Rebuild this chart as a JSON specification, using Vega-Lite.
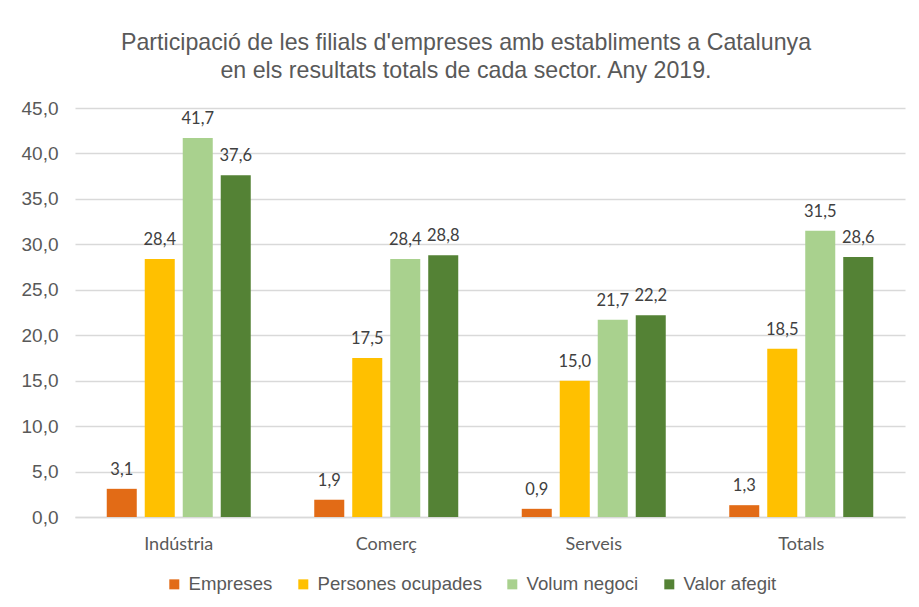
{
  "$schema": "https://vega.github.io/schema/vega-lite/v6.json",
  "autosize": {"type": "none"},
  "width": 830,
  "height": 409,
  "padding": {"left": 75, "top": 108, "right": 14, "bottom": 90},
  "background": "white",
  "config": {
    "locale": {"number": {"decimal": ",", "thousands": ".", "grouping": [3], "currency": ["", " €"]}},
    "view": {"stroke": null},
    "font": "Liberation Sans"
  },
  "title": {
    "text": ["Participació de les filials d'empreses amb establiments a Catalunya", "en els resultats totals de cada sector. Any 2019."],
    "font": "Liberation Sans",
    "fontSize": 23.2,
    "fontWeight": "normal",
    "color": "#595959",
    "lineHeight": 28,
    "anchor": "middle",
    "frame": "group",
    "dx": -24,
    "offset": 16
  },
  "data": {
    "values": [
      {"sector": "Indústria", "serie": "Empreses", "valor": 3.1},
      {"sector": "Indústria", "serie": "Persones ocupades", "valor": 28.4},
      {"sector": "Indústria", "serie": "Volum negoci", "valor": 41.7},
      {"sector": "Indústria", "serie": "Valor afegit", "valor": 37.6},
      {"sector": "Comerç", "serie": "Empreses", "valor": 1.9},
      {"sector": "Comerç", "serie": "Persones ocupades", "valor": 17.5},
      {"sector": "Comerç", "serie": "Volum negoci", "valor": 28.4},
      {"sector": "Comerç", "serie": "Valor afegit", "valor": 28.8},
      {"sector": "Serveis", "serie": "Empreses", "valor": 0.9},
      {"sector": "Serveis", "serie": "Persones ocupades", "valor": 15.0},
      {"sector": "Serveis", "serie": "Volum negoci", "valor": 21.7},
      {"sector": "Serveis", "serie": "Valor afegit", "valor": 22.2},
      {"sector": "Totals", "serie": "Empreses", "valor": 1.3},
      {"sector": "Totals", "serie": "Persones ocupades", "valor": 18.5},
      {"sector": "Totals", "serie": "Volum negoci", "valor": 31.5},
      {"sector": "Totals", "serie": "Valor afegit", "valor": 28.6}
    ]
  },
  "encoding": {
    "x": {
      "field": "sector",
      "type": "nominal",
      "sort": ["Indústria", "Comerç", "Serveis", "Totals"],
      "scale": {"paddingInner": 0.306, "paddingOuter": 0.153},
      "axis": {
        "title": null,
        "labelAngle": 0,
        "labelFont": "Lato",
        "labelFontSize": 18,
        "labelColor": "#595959",
        "labelPadding": 18,
        "ticks": false,
        "domainColor": "#d9d9d9",
        "domainWidth": 1.5
      }
    },
    "xOffset": {
      "field": "serie",
      "type": "nominal",
      "sort": ["Empreses", "Persones ocupades", "Volum negoci", "Valor afegit"],
      "scale": {"paddingInner": 0.21, "paddingOuter": 0}
    },
    "y": {
      "field": "valor",
      "type": "quantitative",
      "scale": {"domain": [0, 45], "nice": false},
      "axis": {
        "title": null,
        "values": [0, 5, 10, 15, 20, 25, 30, 35, 40, 45],
        "format": ".1f",
        "labelFont": "Liberation Sans",
        "labelFontSize": 19,
        "labelColor": "#595959",
        "labelPadding": 17,
        "ticks": false,
        "domain": false,
        "gridColor": "#d9d9d9",
        "gridWidth": 1.5
      }
    }
  },
  "layer": [
    {
      "mark": {"type": "bar"},
      "encoding": {
        "color": {
          "field": "serie",
          "type": "nominal",
          "scale": {
            "domain": ["Empreses", "Persones ocupades", "Volum negoci", "Valor afegit"],
            "range": ["#E26B16", "#FFC000", "#A9D18E", "#548235"]
          },
          "legend": {
            "title": null,
            "orient": "none",
            "direction": "horizontal",
            "legendX": 90,
            "legendY": 467,
            "symbolType": "square",
            "symbolSize": 100,
            "symbolStrokeWidth": 0,
            "labelFont": "Liberation Sans",
            "labelFontSize": 18.6,
            "labelColor": "#595959",
            "labelOffset": 5,
            "labelLimit": 400,
            "columnPadding": 21
          }
        }
      }
    },
    {
      "mark": {"type": "text", "baseline": "alphabetic", "dy": -14, "font": "Lato", "fontSize": 16.5, "color": "#404040"},
      "encoding": {
        "text": {"field": "valor", "type": "quantitative", "format": ".1f"}
      }
    }
  ]
}
